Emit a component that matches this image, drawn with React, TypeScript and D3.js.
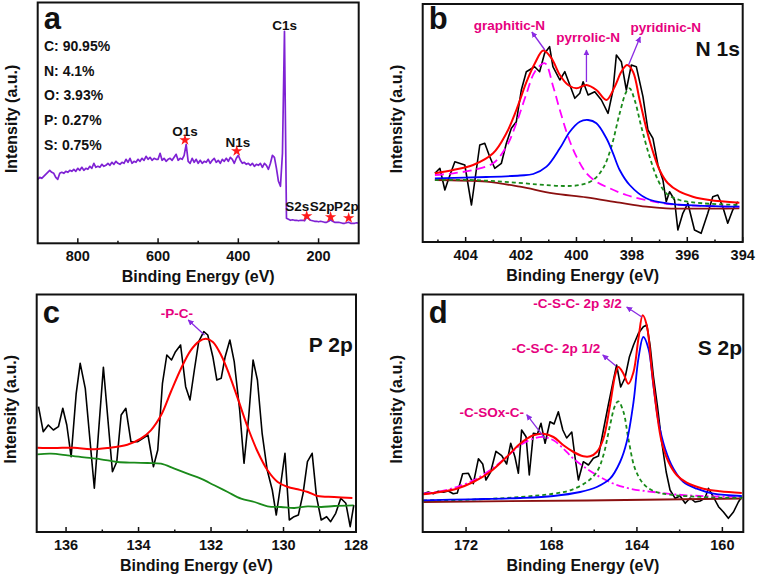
import React from "react";
import * as d3 from "d3";

const FONT = "Arial, 'Liberation Sans', Helvetica, sans-serif";
const PINK = "#e6007e";
const ARROW = "#8a2be2";

// ---------------- Panel a : survey ----------------
const surveyEnergy = d3.range(900, 99, -5);
const surveyCounts = [
  64, 66, 65, 67, 69, 71, 73, 71, 70, 66, 64,
  70, 71, 70, 72, 71, 73, 72, 74, 72, 75,
  73, 76, 73, 75, 74, 77, 75, 80, 76, 77,
  76, 79, 77, 78, 80, 78, 81, 79, 82, 80,
  79, 81, 80, 84, 81, 85, 80, 82, 81, 84,
  82, 85, 83, 87, 84, 86, 83, 85, 84, 84,
  90, 83, 85, 82, 84, 85, 83, 86, 89, 83,
  85, 84, 88, 99, 82, 80, 85, 81, 84, 80,
  83, 80, 82, 81, 84, 80, 83, 85, 81, 83,
  80, 84, 82, 85, 82, 86, 84, 80, 85, 88,
  83, 80, 81, 79, 80, 78, 80, 77, 79, 78,
  80, 76, 80, 78, 74, 80, 88, 86, 75, 62,
  57, 90, 212, 25, 24, 23, 23.5, 23, 23, 22.5,
  23, 23, 22.5, 26, 25, 23, 22.5, 22, 22, 21.5,
  22, 21.5, 21, 21, 22, 23.5, 22, 21, 21, 21,
  20.5, 20, 20, 20.5, 21, 20, 20, 20, 20.5, 20,
];
const composition = ["C: 90.95%", "N: 4.1%", "O: 3.93%", "P: 0.27%", "S: 0.75%"];
const starNames = ["O1s", "N1s", "S2s", "S2p", "P2p"];
const starEnergy = [533, 404, 229.6, 170, 125];
const starCounts = [103.3, 92.3, 27.3, 26.3, 25.3];
const starLabelEnergy = [533, 401, 253, 191, 131];
const starLabelCounts = [107.3, 96.3, 32.3, 32.3, 32.3];

// ---------------- Panel b : N 1s ----------------
const nRawEnergy = [405.11, 404.93, 404.75, 404.63, 404.39, 404.03, 403.79, 403.49, 403.31, 403.13, 402.95, 402.71, 402.53, 402.35, 402.17, 401.99, 401.81, 401.51, 401.33, 401.15, 400.97, 400.85, 400.6, 400.42, 400.24, 400.06, 399.88, 399.76, 399.58, 399.34, 399.1, 398.86, 398.68, 398.56, 398.38, 398.2, 398.02, 397.84, 397.6, 397.42, 397.24, 397.06, 396.88, 396.76, 396.64, 396.46, 396.34, 396.16, 395.98, 395.74, 395.5, 395.26, 395.08, 394.9, 394.72, 394.54, 394.36, 394.18];
const nRawCounts = [68.7, 73.7, 52, 62, 80.3, 77, 37, 97, 98.7, 85.3, 73.7, 78.7, 98.7, 113.7, 120.3, 152, 170.3, 175.3, 170.3, 188.7, 195.3, 175.3, 162, 170.3, 157, 143.7, 148.7, 160.3, 147, 150.3, 142, 128.7, 152, 187, 180.3, 152, 177, 175.3, 145.3, 112, 103.7, 77, 62, 40.3, 50.3, 42, 12, 28.7, 38.7, 12, 8.7, 28.7, 45.3, 47, 35.3, 18.7, 32, 40.3];
const nSumEnergy = [405.11, 404.45, 403.73, 403.01, 402.53, 402.17, 401.8, 401.5, 401.2, 400.9, 400.6, 400.3, 400.0, 399.64, 399.28, 398.92, 398.62, 398.38, 398.17, 397.96, 397.72, 397.48, 397.24, 397.0, 396.7, 396.28, 395.8, 395.2, 394.12];
const nSumCounts = [68.7, 72, 77, 88.7, 108.7, 132, 160.3, 178.7, 191.5, 183.7, 167, 157, 153.7, 157, 152, 142, 155.3, 170.3, 177, 170.3, 142, 113.7, 90.3, 72, 58.7, 50.3, 45.3, 42, 39.3];
const nGraphiticEnergy = [405.11, 404.45, 403.73, 403.01, 402.53, 402.17, 401.8, 401.5, 401.14, 400.84, 400.6, 400.3, 400.0, 399.64, 399.28, 398.8, 398.2, 397.48, 396.64, 395.44, 394.12];
const nGraphiticCounts = [67, 68.7, 72, 78.7, 95.3, 118.7, 148.7, 170.3, 178.7, 155.3, 132, 105.3, 85.3, 68.7, 60.3, 53.7, 47, 42, 38, 36, 35.3];
const nPyrrolicEnergy = [405.11, 403.25, 402.04, 401.56, 401.08, 400.6, 400.24, 399.88, 399.58, 399.28, 398.92, 398.68, 398.44, 398.08, 397.48, 396.76, 394.12];
const nPyrrolicCounts = [63.7, 65, 66.5, 68, 75.3, 93.7, 110.3, 120.3, 122, 118.7, 103.7, 88.7, 72, 57, 43.7, 38.7, 35.3];
const nPyridinicEnergy = [405.11, 403.85, 402.65, 401.44, 400.48, 399.88, 399.4, 399.04, 398.74, 398.44, 398.2, 398.08, 397.9, 397.66, 397.36, 397.06, 396.76, 396.28, 395.44, 394.12];
const nPyridinicCounts = [62, 62, 60.3, 57.7, 56, 57, 62, 73.7, 95.3, 128.7, 150.3, 153.7, 142, 115.3, 85.3, 62, 48.7, 42, 38.7, 37];
const nBackEnergy = [405.11, 403.25, 402.04, 400.84, 399.64, 398.44, 397.48, 396.76, 394.12];
const nBackCounts = [62, 60.3, 55.3, 48.7, 44.7, 39.3, 35.3, 33.7, 33.7];

// ---------------- Panel c : P 2p ----------------
const pRawEnergy = [136.76, 136.63, 136.49, 136.35, 136.21, 136.09, 135.98, 135.86, 135.72, 135.61, 135.47, 135.22, 134.97, 134.72, 134.6, 134.48, 134.35, 134.21, 134.02, 133.74, 133.59, 133.47, 133.34, 133.22, 133.09, 132.98, 132.84, 132.7, 132.58, 132.46, 132.34, 132.2, 132.09, 131.95, 131.84, 131.72, 131.61, 131.48, 131.36, 131.21, 131.09, 130.96, 130.84, 130.72, 130.59, 130.45, 130.31, 130.2, 130.08, 129.96, 129.84, 129.71, 129.59, 129.46, 129.34, 129.21, 129.09, 128.96, 128.81, 128.7, 128.56, 128.42, 128.28, 128.16, 128.06];
const pRawCounts = [125.3, 100.3, 107, 102, 105.3, 123.7, 107, 75.3, 138.7, 168.7, 143.7, 43.7, 164.7, 60.3, 70.3, 117, 123.7, 90.3, 90.3, 97, 65.3, 82, 148.7, 177, 172, 180.3, 187, 145.3, 132, 162, 190.3, 200.3, 197, 175.3, 152, 153.7, 175.3, 192, 170.3, 122, 68.7, 115.3, 172, 152, 98.7, 62, 42, 17, 47, 78.7, 12, 15.3, 17, 38.7, 70.3, 78.7, 35.3, 12, 15.3, 10.3, 18.7, 33.7, 28.7, 5.3, 27];
const pFitEnergy = [136.79, 136.33, 135.78, 135.32, 134.86, 134.31, 133.94, 133.66, 133.38, 133.11, 132.83, 132.56, 132.33, 132.14, 131.95, 131.72, 131.49, 131.26, 130.99, 130.71, 130.44, 130.16, 129.88, 129.61, 129.33, 129.06, 128.6, 128.1];
const pFitCounts = [84.3, 84, 84.3, 82.7, 84, 87.3, 93.3, 101.7, 116.7, 140, 163.3, 181.7, 190.7, 193.3, 190, 176.7, 156.7, 133.3, 105, 80, 61.7, 50, 45, 42.7, 40, 36, 35, 34];
const pBackEnergy = [136.79, 136.42, 135.96, 135.5, 135.04, 134.58, 134.12, 133.75, 133.38, 133.01, 132.65, 132.28, 131.91, 131.54, 131.17, 130.8, 130.44, 130.07, 129.7, 129.33, 128.96, 128.6, 128.07];
const pBackCounts = [77.7, 78.3, 76.7, 74.7, 72.7, 70, 69.3, 69, 68.3, 63.3, 58.3, 53.3, 46.7, 40, 33.3, 30, 25.7, 25, 24, 25.7, 25, 26, 26.7];

// ---------------- Panel d : S 2p ----------------
const sRawEnergy = [174.0, 173.77, 173.53, 173.3, 173.06, 172.83, 172.6, 172.41, 172.16, 171.89, 171.66, 171.42, 171.22, 171.07, 170.85, 170.6, 170.33, 170.1, 169.91, 169.71, 169.55, 169.4, 169.19, 169.04, 168.85, 168.66, 168.49, 168.3, 168.07, 167.88, 167.68, 167.47, 167.29, 167.05, 166.9, 166.74, 166.51, 166.27, 166.04, 165.8, 165.57, 165.34, 165.1, 164.95, 164.76, 164.56, 164.35, 164.16, 163.93, 163.7, 163.54, 163.38, 163.23, 163.04, 162.84, 162.63, 162.45, 162.21, 161.98, 161.74, 161.51, 161.28, 161.04, 160.81, 160.65, 160.42, 160.18, 159.95, 159.72, 159.48, 159.25, 159.09];
const sRawCounts = [38.3, 40, 38.3, 40.7, 39.7, 41, 38.3, 39, 58.3, 58.7, 48.3, 73.3, 68, 52, 60, 80.7, 76.3, 68, 88.7, 75, 58.7, 102, 95.3, 57, 98.7, 98, 108.7, 88.7, 110.3, 108, 120.3, 102, 94, 100, 75, 52, 70.3, 67, 73.7, 76, 102, 127, 152, 167, 145, 154, 175.3, 187, 198.7, 205.3, 207, 186, 156, 126, 90, 60, 42, 33.7, 36, 28.7, 34, 30, 31, 34, 43.7, 35, 25.3, 20, 13.7, 20, 30, 35.3];
const sSumEnergy = [174.0, 173.22, 172.44, 171.66, 170.88, 170.1, 169.47, 168.85, 168.38, 167.91, 167.44, 166.97, 166.51, 166.19, 165.88, 165.57, 165.26, 165.02, 164.87, 164.63, 164.4, 164.16, 163.93, 163.73, 163.54, 163.31, 163.07, 162.84, 162.52, 162.13, 161.67, 160.89, 160.11, 159.09];
const sSumCounts = [37.7, 40, 43.3, 50, 60, 75, 88.3, 96.7, 98.3, 95, 86.7, 80, 75.7, 75.7, 80, 93.3, 126.7, 156.7, 165, 158.3, 148.3, 160, 193.3, 216.7, 206.7, 163.3, 120, 90, 70, 56.7, 49.3, 43.3, 40.7, 39];
const s32Energy = [174.0, 171.82, 169.47, 167.91, 166.66, 165.88, 165.26, 164.79, 164.48, 164.16, 163.93, 163.7, 163.46, 163.23, 162.99, 162.68, 162.29, 161.82, 161.2, 160.42, 159.09];
const s32Counts = [31.7, 32.7, 34, 36, 40, 45, 53.3, 70, 90, 130, 173.3, 195, 183.3, 146.7, 110, 83.3, 63.3, 50, 43.3, 38.3, 36];
const s12Energy = [174.0, 171.82, 169.47, 167.91, 167.13, 166.35, 165.88, 165.57, 165.26, 165.02, 164.87, 164.63, 164.4, 164.09, 163.7, 163.23, 162.45, 160.89, 159.09];
const s12Counts = [31.7, 32.3, 35, 38.3, 41.7, 50, 60, 76.7, 106.7, 126.7, 130.7, 120, 93.3, 63.3, 48.3, 41, 37.3, 35, 34];
const sOxEnergy = [174.0, 173.22, 172.44, 171.66, 170.88, 170.1, 169.47, 168.85, 168.38, 167.91, 167.44, 166.97, 166.35, 165.73, 165.1, 164.32, 163.23, 161.67, 159.09];
const sOxCounts = [38.3, 40.7, 45, 51.7, 61.7, 75, 86.7, 93.3, 95, 91.7, 83.3, 73.3, 63.3, 55, 48.3, 43.3, 40, 36.7, 35];
const sBackEnergy = [174.0, 166.35, 159.09];
const sBackCounts = [30, 31.5, 33.5];

type Line = { e: number[]; v: number[]; color: string; w: number; dash?: string; smooth?: boolean };
type Note = { text: string; e: number; v: number; anchor?: string; size?: number; color?: string };
type Arrow = { e0: number; v0: number; e1: number; v1: number };

type PanelProps = {
  id: string;
  letter: string;
  letterY: number;
  x0: number; x1: number; y0: number; y1: number;
  domain: [number, number];
  majors: number[];
  minors: number[];
  lines: Line[];
  notes: Note[];
  arrows: Arrow[];
  extra?: (x: d3.ScaleLinear<number, number>, y: d3.ScaleLinear<number, number>) => React.ReactNode;
};

function Panel(p: PanelProps) {
  const x = d3.scaleLinear().domain(p.domain).range([p.x0, p.x1]);
  const y = d3.scaleLinear().domain([0, p.y1 - p.y0]).range([p.y1, p.y0]);
  const clip = `clip-${p.id}`;
  return (
    <g>
      <defs>
        <clipPath id={clip}>
          <rect x={p.x0} y={p.y0} width={p.x1 - p.x0} height={p.y1 - p.y0} />
        </clipPath>
      </defs>
      <g clipPath={`url(#${clip})`}>
        {p.lines.map((l, i) => {
          const gen = d3
            .line<[number, number]>()
            .x((d) => x(d[0]))
            .y((d) => y(d[1]))
            .curve(l.smooth ? d3.curveCatmullRom.alpha(0.5) : d3.curveLinear);
          return (
            <path
              key={i}
              d={gen(d3.zip(l.e, l.v) as [number, number][]) || ""}
              fill="none"
              stroke={l.color}
              strokeWidth={l.w}
              strokeDasharray={l.dash}
              strokeLinejoin="round"
            />
          );
        })}
      </g>
      {p.arrows.map((a, i) => (
        <line
          key={i}
          x1={x(a.e0)}
          y1={y(a.v0)}
          x2={x(a.e1)}
          y2={y(a.v1)}
          stroke={ARROW}
          strokeWidth={1.3}
          markerEnd="url(#arrowHead)"
        />
      ))}
      {p.notes.map((n, i) => (
        <text
          key={i}
          x={x(n.e)}
          y={y(n.v)}
          textAnchor={n.anchor || "middle"}
          fontSize={n.size || 13.5}
          fontWeight="bold"
          fill={n.color || PINK}
          fontFamily={FONT}
        >
          {n.text}
        </text>
      ))}
      {p.extra ? p.extra(x, y) : null}
      <rect x={p.x0} y={p.y0} width={p.x1 - p.x0} height={p.y1 - p.y0} fill="none" stroke="#111" strokeWidth={2} />
      {p.majors.map((t) => (
        <g key={`M${t}`}>
          <line x1={x(t)} x2={x(t)} y1={p.y1} y2={p.y1 - 5} stroke="#111" strokeWidth={1.5} />
          <text x={x(t)} y={p.y1 + 17.5} textAnchor="middle" fontSize={14.5} fontWeight="bold" fontFamily={FONT} fill="#111">
            {t}
          </text>
        </g>
      ))}
      {p.minors.map((t) => (
        <line key={`m${t}`} x1={x(t)} x2={x(t)} y1={p.y1} y2={p.y1 - 2.5} stroke="#111" strokeWidth={1.5} />
      ))}
      <text x={p.x0 + 6} y={p.letterY} fontSize={31} fontWeight="bold" fontFamily={FONT} fill="#111">
        {p.letter}
      </text>
      <text
        transform={`translate(${p.x0 - 21},${(p.y0 + p.y1) / 2 - 4}) rotate(-90)`}
        textAnchor="middle"
        fontSize={16}
        fontWeight="bold"
        fontFamily={FONT}
        fill="#111"
      >
        Intensity (a.u.)
      </text>
      <text x={(p.x0 + p.x1) / 2} y={p.y1 + 39} textAnchor="middle" fontSize={16} fontWeight="bold" fontFamily={FONT} fill="#111">
        Binding Energy (eV)
      </text>
    </g>
  );
}

export default function App() {
  const star = d3.symbol().type(d3.symbolStar).size(40)() || "";
  return (
    <svg width={759} height={582} style={{ position: "absolute", left: 0, top: 0, background: "#fff" }}>
      <defs>
        <marker id="arrowHead" viewBox="0 0 10 10" refX="9" refY="5" markerWidth="6" markerHeight="6" orient="auto" markerUnits="userSpaceOnUse">
          <path d="M0,0 L10,5 L0,10 z" fill={ARROW} />
        </marker>
      </defs>
      <rect x={0} y={0} width={759} height={582} fill="#fff" />
      <Panel
        id="a"
        letter="a"
        letterY={29}
        x0={37.7}
        x1={358.7}
        y0={2.5}
        y1={243.3}
        domain={[900, 100]}
        majors={[800, 600, 400, 200]}
        minors={[700, 500, 300]}
        lines={[{ e: surveyEnergy, v: surveyCounts, color: "#7f22d4", w: 1.7 }]}
        notes={[
          { text: "C1s", e: 284.4, v: 213.3, color: "#111" },
          ...starNames.map((s, i) => ({ text: s, e: starLabelEnergy[i], v: starLabelCounts[i], color: "#111" })),
        ]}
        arrows={[]}
        extra={(x, y) => (
          <g>
            {starEnergy.map((e, i) => (
              <path key={i} d={star} transform={`translate(${x(e)},${y(starCounts[i])})`} fill="#ff1a1a" />
            ))}
            {composition.map((c, i) => (
              <text key={c} x={44} y={51 + i * 24.7} fontSize={14} fontWeight="bold" fontFamily={FONT} fill="#111">
                {c}
              </text>
            ))}
          </g>
        )}
      />
      <Panel
        id="b"
        letter="b"
        letterY={29}
        x0={422.7}
        x1={742.7}
        y0={4}
        y1={242}
        domain={[405.55, 394]}
        majors={[404, 402, 400, 398, 396, 394]}
        minors={[405, 403, 401, 399, 397, 395]}
        lines={[
          { e: nRawEnergy, v: nRawCounts, color: "#000", w: 1.6 },
          { e: nBackEnergy, v: nBackCounts, color: "#8b1010", w: 1.8, smooth: true },
          { e: nGraphiticEnergy, v: nGraphiticCounts, color: "#ff00ff", w: 1.8, dash: "9,5", smooth: true },
          { e: nPyridinicEnergy, v: nPyridinicCounts, color: "#1a8a1a", w: 1.8, dash: "4,3", smooth: true },
          { e: nPyrrolicEnergy, v: nPyrrolicCounts, color: "#0000ff", w: 1.8, smooth: true },
          { e: nSumEnergy, v: nSumCounts, color: "#ff0000", w: 2, smooth: true },
        ]}
        notes={[
          { text: "graphitic-N", e: 402.42, v: 212 },
          { text: "pyrrolic-N", e: 399.58, v: 200.3 },
          { text: "pyridinic-N", e: 396.78, v: 210.3 },
          { text: "N 1s", e: 394.1, v: 186, anchor: "end", size: 21, color: "#111" },
        ]}
        arrows={[
          { e0: 401.14, v0: 192, e1: 401.61, v1: 210 },
          { e0: 399.64, v0: 160, e1: 399.64, v1: 192 },
          { e0: 398.12, v0: 177, e1: 397.7, v1: 205 },
        ]}
      />
      <Panel
        id="c"
        letter="c"
        letterY={323}
        x0={36.7}
        x1={356}
        y0={294.5}
        y1={532}
        domain={[136.81, 128]}
        majors={[136, 134, 132, 130, 128]}
        minors={[135, 133, 131, 129]}
        lines={[
          { e: pRawEnergy, v: pRawCounts, color: "#000", w: 1.6 },
          { e: pBackEnergy, v: pBackCounts, color: "#1a8a1a", w: 1.8, smooth: true },
          { e: pFitEnergy, v: pFitCounts, color: "#ff0000", w: 2, smooth: true },
        ]}
        notes={[
          { text: "-P-C-", e: 132.94, v: 214 },
          { text: "P 2p", e: 128.09, v: 180.3, anchor: "end", size: 21, color: "#111" },
        ]}
        arrows={[{ e0: 132.18, v0: 197, e1: 132.63, v1: 212 }]}
      />
      <Panel
        id="d"
        letter="d"
        letterY={323}
        x0={422.7}
        x1={743.3}
        y0={294.5}
        y1={532}
        domain={[174.03, 159.02]}
        majors={[172, 168, 164, 160]}
        minors={[170, 166, 162]}
        lines={[
          { e: sRawEnergy, v: sRawCounts, color: "#000", w: 1.6 },
          { e: sBackEnergy, v: sBackCounts, color: "#8b1010", w: 1.8 },
          { e: sOxEnergy, v: sOxCounts, color: "#ff00ff", w: 1.8, dash: "8,3,2,3", smooth: true },
          { e: s12Energy, v: s12Counts, color: "#1a8a1a", w: 1.8, dash: "4,3", smooth: true },
          { e: s32Energy, v: s32Counts, color: "#0000ff", w: 1.8, smooth: true },
          { e: sSumEnergy, v: sSumCounts, color: "#ff0000", w: 2, smooth: true },
        ]}
        notes={[
          { text: "-C-S-C- 2p 3/2", e: 166.78, v: 224 },
          { text: "-C-S-C- 2p 1/2", e: 167.79, v: 179 },
          { text: "-C-SOx-C-", e: 170.8, v: 115 },
          { text: "S 2p", e: 159.08, v: 177, anchor: "end", size: 21, color: "#111" },
        ]}
        arrows={[
          { e0: 163.77, v0: 215, e1: 164.48, v1: 225 },
          { e0: 164.98, v0: 166, e1: 165.6, v1: 177 },
          { e0: 168.3, v0: 93.3, e1: 169.16, v1: 117.3 },
        ]}
      />
    </svg>
  );
}
